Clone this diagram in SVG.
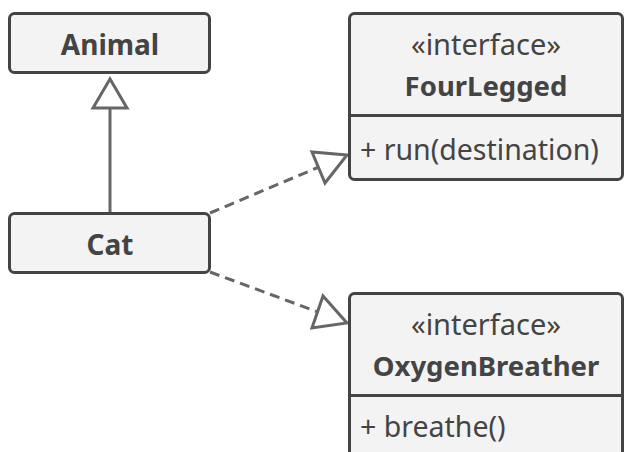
<svg xmlns="http://www.w3.org/2000/svg" width="625" height="452" viewBox="0 0 625 452">
  <style>
    .box { fill: #f3f3f3; stroke: #444444; stroke-width: 3; }
    .div { stroke: #444444; stroke-width: 3; }
    .conn { fill: none; stroke: #666666; stroke-width: 3; }
    .dash { stroke-dasharray: 10 6; }
    .head { fill: #ffffff; stroke: #666666; stroke-width: 3; stroke-linejoin: miter; }
    .cls { font-family: "Noto Sans", "Open Sans", sans-serif; font-weight: bold; font-size: 28px; fill: #444444; text-anchor: middle; }
    .iname { font-family: "Noto Sans", "Open Sans", sans-serif; font-weight: bold; font-size: 27.5px; fill: #444444; text-anchor: middle; }
    .st { font-family: "Noto Sans", "Open Sans", sans-serif; font-size: 29px; fill: #444444; text-anchor: middle; }
    .mem { font-family: "Noto Sans", "Open Sans", sans-serif; font-size: 28.5px; fill: #444444; }
  </style>
  <rect width="625" height="452" fill="#ffffff"/>

  <g id="connectors">
    <line class="conn" x1="110" y1="108" x2="110" y2="213"/>
    <polygon class="head" points="110,79 93,108 127,108"/>
    <line class="conn dash" x1="210" y1="213" x2="319" y2="167"/>
    <polygon class="head" points="347,155 312,152 325,183"/>
    <line class="conn dash" x1="210" y1="272" x2="318" y2="312"/>
    <polygon class="head" points="347,323 323,296 312,328"/>
  </g>

  <g id="animal">
    <rect class="box" x="9.5" y="13.5" width="200" height="59" rx="5"/>
    <text class="cls" x="110" y="55">Animal</text>
  </g>

  <g id="cat">
    <rect class="box" x="9.5" y="213.5" width="200" height="59" rx="5"/>
    <text class="cls" x="110" y="255">Cat</text>
  </g>

  <g id="fourlegged">
    <rect class="box" x="349.5" y="13.5" width="273" height="166" rx="5"/>
    <line class="div" x1="349.5" y1="115.5" x2="622.5" y2="115.5"/>
    <text class="st" x="486" y="55">«interface»</text>
    <text class="iname" x="486" y="96">FourLegged</text>
    <text class="mem" x="360" y="160">+ run(destination)</text>
  </g>

  <g id="oxygenbreather">
    <rect class="box" x="349.5" y="293.5" width="273" height="180" rx="5"/>
    <line class="div" x1="349.5" y1="395.5" x2="622.5" y2="395.5"/>
    <text class="st" x="486" y="335">«interface»</text>
    <text class="iname" x="486" y="376">OxygenBreather</text>
    <text class="mem" x="360" y="437">+ breathe()</text>
  </g>
</svg>
